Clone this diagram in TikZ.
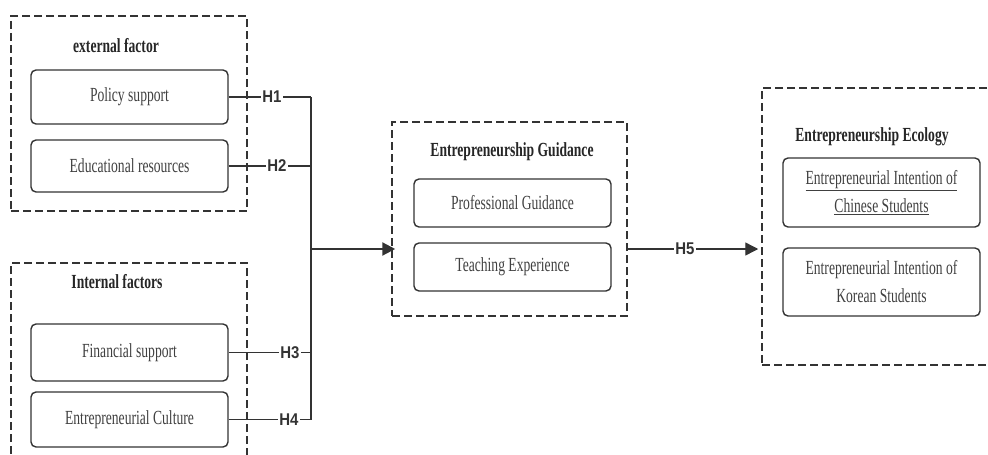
\documentclass[tikz,border=0pt]{standalone}
\usepackage{fontspec}
\setmainfont{Liberation Serif}[FakeStretch=0.68]
\newfontfamily\hfont{Liberation Sans}[FakeStretch=0.88]
\usetikzlibrary{arrows.meta}
\colorlet{ink}{black!80}

\begin{document}
\begin{tikzpicture}[x=1pt,y=-1pt,
  group/.style={draw=ink, line width=1.5pt, dash pattern=on 8pt off 4pt, inner sep=0pt},
  item/.style={draw=ink, line width=1.4pt, rounded corners=5pt, minimum width=197pt,
    inner sep=0pt, font=\fontsize{20}{28}\selectfont, text=black!75, align=center},
  title/.style={font=\fontsize{20}{24}\selectfont\bfseries, text=black!85},
  hyp/.style={font=\hfont\fontsize{17}{19}\selectfont\bfseries, text=ink, inner sep=1.5pt},
  link/.style={draw=ink, line width=1.4pt},
  push/.style={draw=ink, line width=2.2pt, -{Triangle[length=13pt,width=13pt]}},]
    \clip (0,0) rectangle (988,455);
    % dashed groups
    \node[group, minimum width=236pt, minimum height=195pt] (ext) at (129,113.5) {};
    \node[group, minimum width=236pt, minimum height=197pt] (int) at (129,361.5) {};
    \node[group, minimum width=235pt, minimum height=194pt] (guid) at (509.5,219) {};
    \node[group, minimum width=238pt, minimum height=277pt] (eco) at (881,226.5) {};
    % titles
    \node[title] (extT) at (116,46) {external factor};
    \node[title] (intT) at (117,282) {Internal factors};
    \node[title] (guidT) at (512,152) {Entrepreneurship Guidance};
    \node[title] (ecoT) at (872,137) {Entrepreneurship Ecology};
    % boxes
    \node[item, minimum height=54pt] (ps) at (129.5,97) {Policy support};
    \node[item, minimum height=52pt] (er) at (129.5,166) {Educational resources};
    \node[item, minimum height=57pt] (fs) at (129.5,352.5) {Financial support};
    \node[item, minimum height=55pt] (ec) at (129.5,419.5) {Entrepreneurial Culture};
    \node[item, minimum height=48pt] (pg) at (512.5,203) {Professional Guidance};
    \node[item, minimum height=48pt] (te) at (512.5,267) {Teaching Experience};
    \node[item, minimum height=69pt] (cs) at (881.5,192.5)
      {\underline{Entrepreneurial Intention of}\\\underline{Chinese Students}};
    \node[item, minimum height=68pt] (ks) at (881.5,282)
      {Entrepreneurial Intention of\\Korean Students};
    % hypotheses
    \node[hyp] (h1) at (272,97) {H1};
    \node[hyp] (h2) at (277,166) {H2};
    \node[hyp] (h3) at (290,352.5) {H3};
    \node[hyp] (h4) at (289,419.5) {H4};
    \node[hyp] (h5) at (685,249) {H5};
    \coordinate (trunk) at (311,249);
    \draw[link] (ps.east) -- (h1) -- (h1 -| trunk);
    \draw[link] (er.east) -- (h2) -- (h2 -| trunk);
    \draw[link] (fs.east) -- (h3) -- (h3 -| trunk);
    \draw[link] (ec.east) -- (h4) -- (h4 -| trunk);
    \draw[link] (h1 -| trunk) -- (h4 -| trunk);
    \draw[push] (trunk) -- ([xshift=4pt]trunk -| guid.west);
    \draw[link] (trunk -| guid.east) -- (h5);
    \draw[push, line width=1.4pt] (h5) -- ([xshift=-3pt]h5 -| eco.west);
\end{tikzpicture}
\end{document}
